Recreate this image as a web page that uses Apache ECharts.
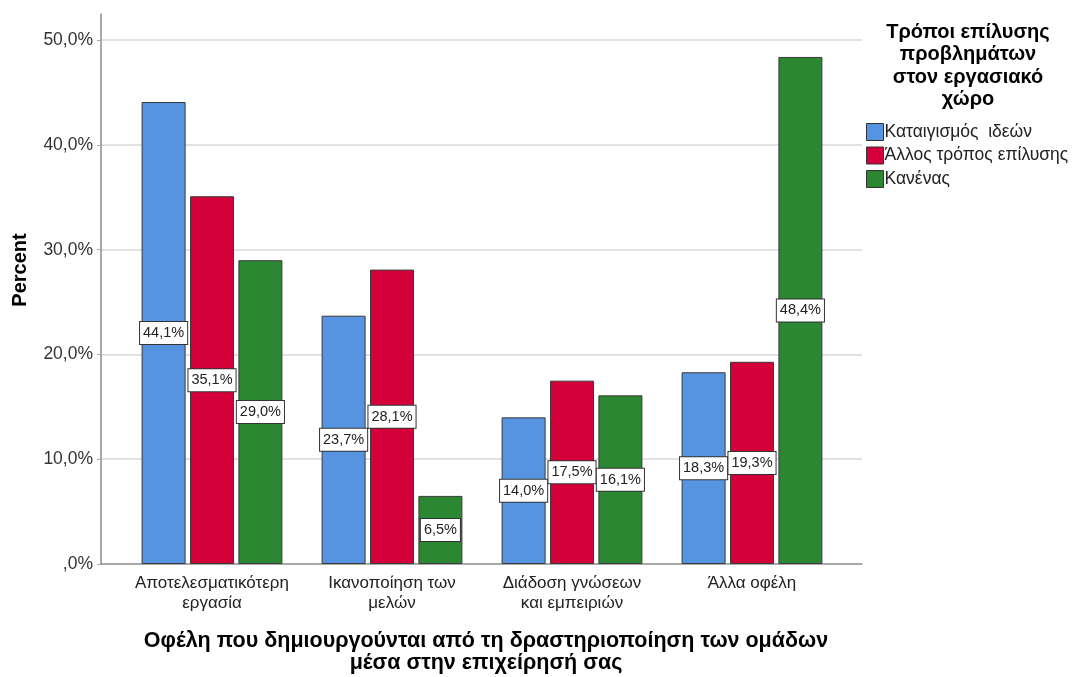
<!DOCTYPE html>
<html><head><meta charset="utf-8">
<script src="https://cdn.jsdelivr.net/npm/echarts@6/dist/echarts.min.js"></script>
<style>html,body{margin:0;padding:0;background:#fff}#c{width:1080px;height:677px}</style>
</head><body><div id="c"></div>
<script>
const categories = ['Αποτελεσματικότερη\nεργασία', 'Ικανοποίηση των\nμελών', 'Διάδοση γνώσεων\nκαι εμπειριών', 'Άλλα οφέλη'];
const seriesNames = ['Καταιγισμός  ιδεών', 'Άλλος τρόπος επίλυσης', 'Κανένας'];
const brainstorming = [44.1, 23.7, 14.0, 18.3];
const otherMethod = [35.1, 28.1, 17.5, 19.3];
const none = [29.0, 6.5, 16.1, 48.4];
const colors = ['#5694E2', '#D3003A', '#2B8731'];
const seriesData = [brainstorming, otherMethod, none];

const FONT = '"Liberation Sans", Arial, sans-serif';
const fmt = v => v.toFixed(1).replace('.', ',') + '%';
const chart = echarts.init(document.getElementById('c'));
const yMax = 52.5;
chart.setOption({
  animation: false,
  textStyle: { fontFamily: FONT },
  grid: [
    { left: 101, right: 218, top: 14, bottom: 113, outerBoundsMode: 'none' },
    { left: 122, right: 238, top: 14, bottom: 113, outerBoundsMode: 'none' }
  ],
  xAxis: [
    { type: 'category', gridIndex: 0, data: categories, axisLine: { lineStyle: { color: '#8c8c8c', width: 1.5 } }, axisTick: { show: false }, axisLabel: { show: false }, splitLine: { show: false } },
    { type: 'category', gridIndex: 1, data: categories, axisLine: { show: false }, axisTick: { show: false },
      axisLabel: { interval: 0, color: '#222', fontSize: 17, lineHeight: 20, margin: 9 } }
  ],
  yAxis: [
    { type: 'value', gridIndex: 0, min: 0, max: yMax, interval: 10,
      axisLine: { show: true, lineStyle: { color: '#8c8c8c', width: 1.5 } },
      axisTick: { show: true, length: 4, lineStyle: { color: '#aaa' } },
      axisLabel: { color: '#333', fontSize: 17.5, margin: 8, showMaxLabel: false,
        formatter: v => (v > 50 ? '' : (v === 0 ? ',0%' : v.toFixed(1).replace('.', ',') + '%')) },
      splitLine: { show: true, showMinLine: false, showMaxLine: false, lineStyle: { color: '#d9d9d9', width: 1.5 } } },
    { type: 'value', gridIndex: 1, min: 0, max: yMax, interval: 10, show: false, splitLine: { show: false } }
  ],
  legend: {
    orient: 'vertical', left: 861, top: 118, itemWidth: 17, itemHeight: 17, itemGap: 5.5, icon: 'rect',
    textStyle: { color: '#222', fontSize: 17.5, padding: [0, 0, 0, -4] },
    data: seriesNames.map((n, i) => ({ name: n, itemStyle: { color: colors[i], borderColor: '#333', borderWidth: 1 } }))
  },
  graphic: [
    { type: 'text', x: 968, y: 21,
      style: { text: 'Τρόποι επίλυσης\nπροβλημάτων\nστον εργασιακό\nχώρο', fill: '#000',
        font: 'bold 20px ' + FONT, lineHeight: 22.5, align: 'center', verticalAlign: 'top' } },
    { type: 'text', x: 20, y: 270, rotation: Math.PI / 2,
      style: { text: 'Percent', fill: '#000', font: 'bold 20px ' + FONT, align: 'center', verticalAlign: 'middle' } },
    { type: 'text', x: 486, y: 630,
      style: { text: 'Οφέλη που δημιουργούνται από τη δραστηριοποίηση των ομάδων\nμέσα στην επιχείρησή σας', fill: '#000',
        font: 'bold 21.5px ' + FONT, lineHeight: 22, align: 'center', verticalAlign: 'top' } }
  ],
  series: seriesNames.map((n, i) => ({
    name: n, type: 'bar', xAxisIndex: 1, yAxisIndex: 1,
    barWidth: 44, barGap: '10%',
    data: seriesData[i],
    itemStyle: { color: colors[i], borderColor: '#3a3a3a', borderWidth: 1 },
    label: { show: true, position: 'inside', formatter: p => fmt(p.value), color: '#222', fontSize: 14.5,
      backgroundColor: '#fff', borderColor: '#333', borderWidth: 1, padding: [4, 3, 3, 3] }
  }))
});
</script></body></html>
